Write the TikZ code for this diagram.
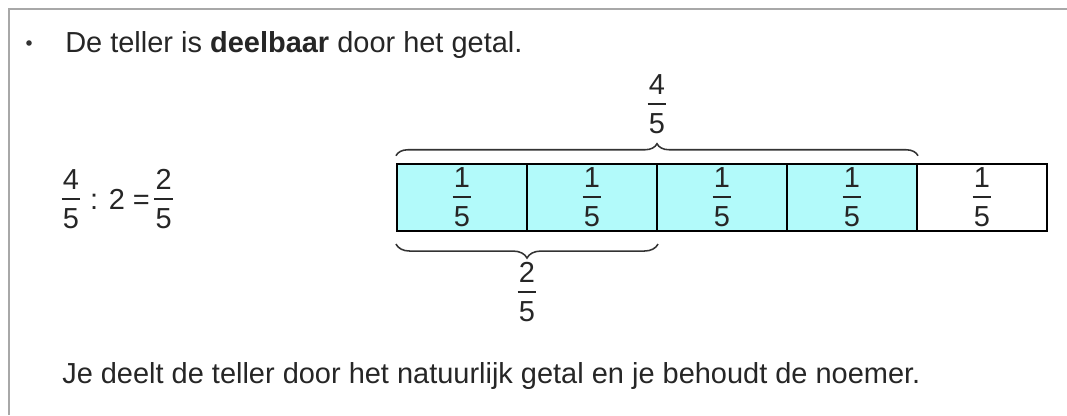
\documentclass[tikz,border=0pt]{standalone}
\usepackage{fontspec}
\setmainfont{Liberation Sans}
\usetikzlibrary{positioning,decorations.pathreplacing}
\definecolor{deelkleur}{RGB}{178,250,250}
\definecolor{randkleur}{RGB}{168,168,168}
\newcommand{\breuk}[2]{\shortstack{#1\\[3pt]\rule{0.64em}{1.5pt}\\[3pt]#2}}

\begin{document}
\begin{tikzpicture}[
  x=0.25mm, y=-0.25mm,
  every node/.style={font=\fontsize{20.6}{24}\selectfont, text=black!85, inner sep=0pt},
  cel/.style={draw, line width=1.5pt, minimum width=32.5mm, minimum height=16.75mm},
  accolade/.style={decorate, decoration={brace, amplitude=#1}, line width=1.1pt, black!80}
]
\useasboundingbox (0,0) rectangle (1067,415);
\draw[randkleur, line width=0.5mm] (9,415) -- (9,9) -- (1067,9);
\fill[black!80] (29,43) circle (2.8);
\node[anchor=base west] (regel1) at (65,52) {De teller is \textbf{deelbaar} door het getal.};

\node (eqa) at (71,199) {\breuk{4}{5}};
\node[right=2.3mm of eqa] (eqop) {: 2 =};
\node[right=1mm of eqop] (eqb) {\breuk{2}{5}};

\foreach \i/\kl in {1/deelkleur,2/deelkleur,3/deelkleur,4/deelkleur,5/white}
  \node[cel, fill=\kl] (c\i) at ({397+130*(\i-0.5)},197.5) {\breuk{1}{5}};

\coordinate (tl) at ([yshift=1.8mm]c1.north west);
\coordinate (tr) at ([yshift=1.8mm]c4.north east);
\draw[accolade=3mm] (tl) -- (tr);
\node (totaal) at (657,104) {\breuk{4}{5}};

\coordinate (bl) at ([yshift=-3mm]c1.south west);
\coordinate (br) at ([yshift=-3mm]c2.south east);
\draw[accolade=3.5mm] (br) -- (bl);
\node (deel) at (527,292) {\breuk{2}{5}};

\node[anchor=base west] (regel2) at (62,383) {Je deelt de teller door het natuurlijk getal en je behoudt de noemer.};
\end{tikzpicture}
\end{document}
